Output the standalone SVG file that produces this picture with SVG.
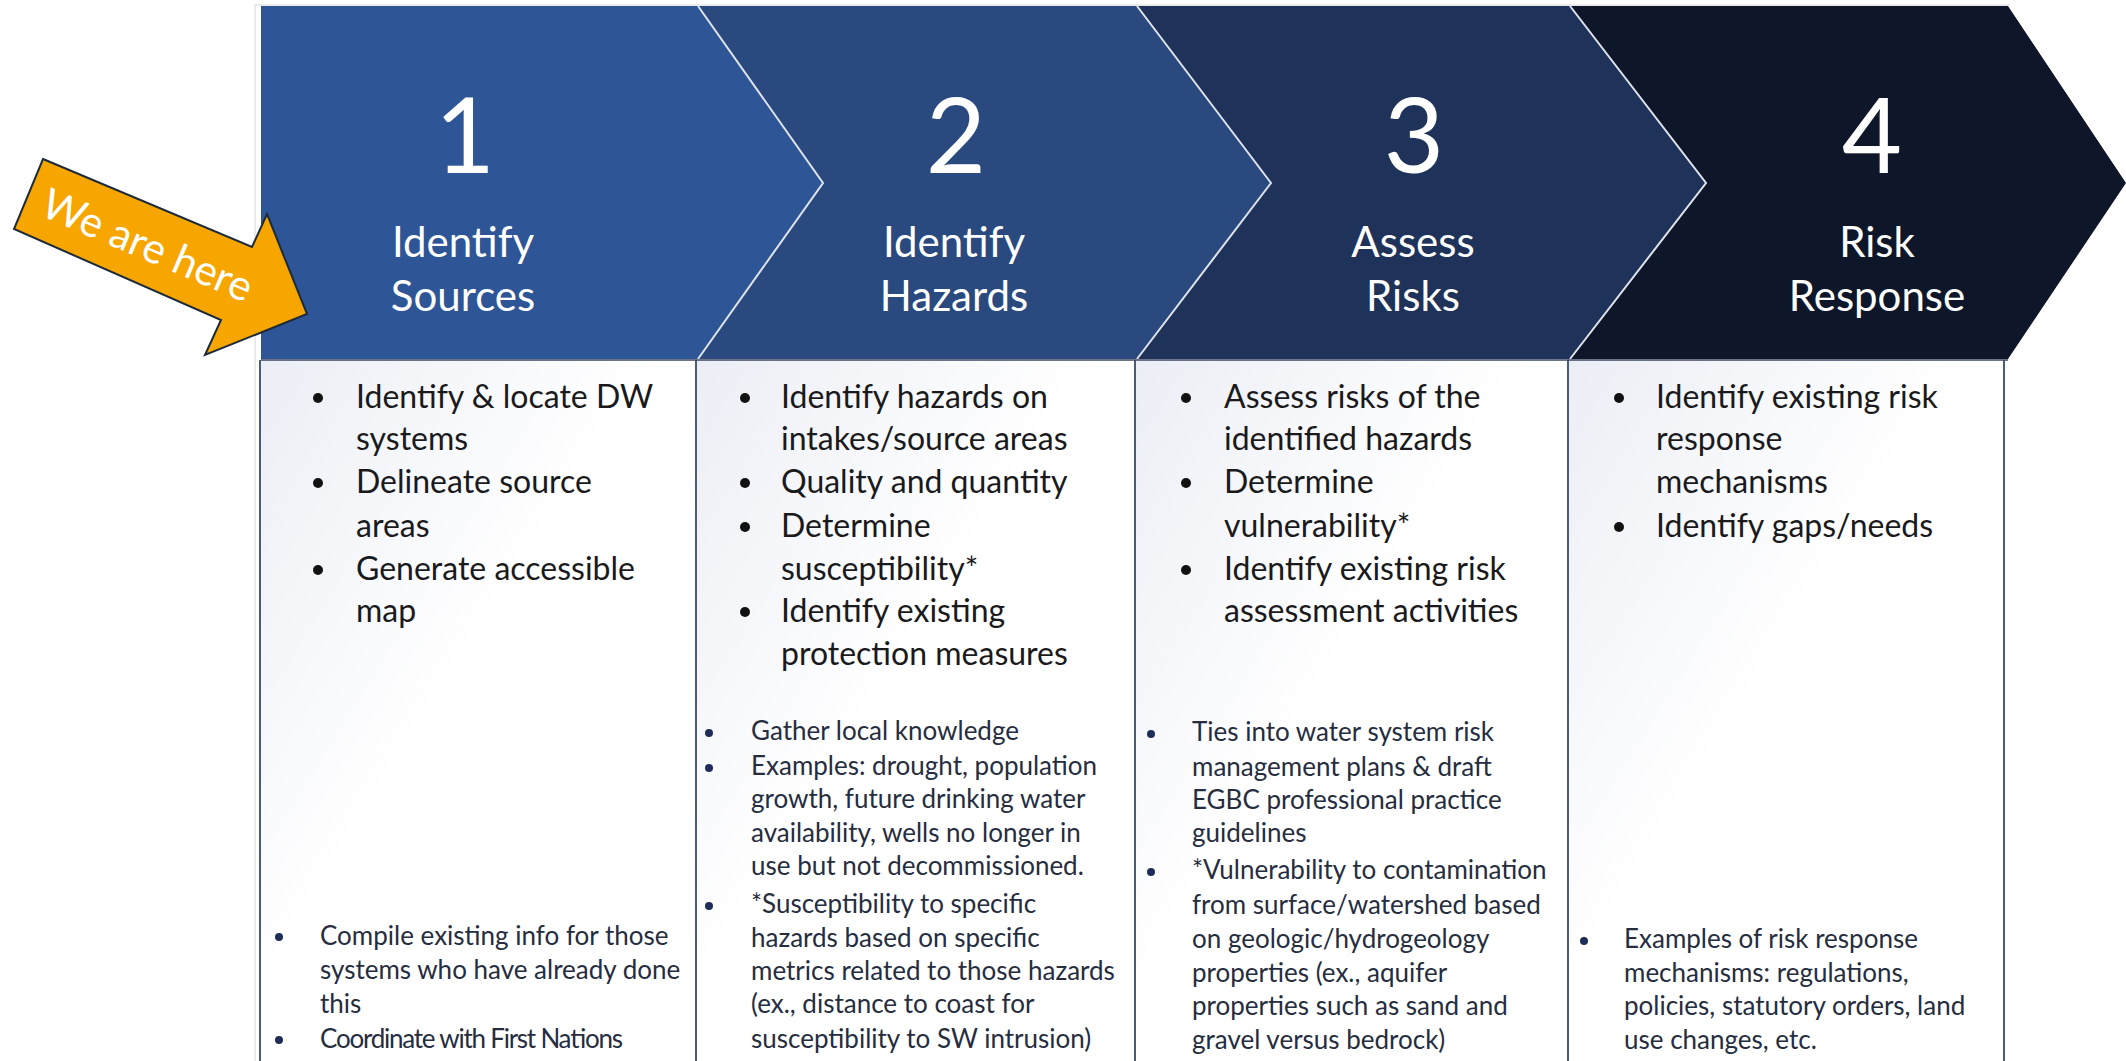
<svg xmlns="http://www.w3.org/2000/svg" width="2126" height="1061" viewBox="0 0 2126 1061">
<defs>
<style>
.num{font-family:Lato,"Open Sans","Liberation Sans",sans-serif;font-size:104px;fill:#fff;text-anchor:middle}
.ttl{font-family:Lato,"Open Sans","Liberation Sans",sans-serif;font-size:42px;fill:#fff;text-anchor:middle}
.main{font-family:Lato,"Open Sans","Liberation Sans",sans-serif;font-size:32px;fill:#1a1a1c}
.small{font-family:Lato,"Open Sans","Liberation Sans",sans-serif;font-size:26px;fill:#262d3e}
.bm{fill:#111}
.bs{fill:#1f2d5a}
.col{stroke:#4b5b7a;stroke-width:2;fill:none}
.sep{stroke:#dfe4ec;stroke-width:2;fill:none}
.arrowtxt{font-family:Lato,"Open Sans","Liberation Sans",sans-serif;font-size:42px;fill:#fff;text-anchor:middle;dominant-baseline:central}
</style>
<linearGradient id="cellbg" x1="0" y1="0" x2="1" y2="1">
<stop offset="0" stop-color="#ebeef5"/>
<stop offset="0.45" stop-color="#ffffff"/>
<stop offset="1" stop-color="#ffffff"/>
</linearGradient>
</defs>
<rect width="2126" height="1061" fill="#fff"/>
<line x1="255" y1="5" x2="255" y2="1061" stroke="#d6d6d6" stroke-width="1"/>
<line x1="255" y1="5" x2="2010" y2="5" stroke="#d6d6d6" stroke-width="1"/>

<g id="table">
<rect x="260" y="360" width="436" height="701" fill="url(#cellbg)"/>
<rect x="696" y="360" width="439" height="701" fill="url(#cellbg)"/>
<rect x="1135" y="360" width="433" height="701" fill="url(#cellbg)"/>
<rect x="1568" y="360" width="436" height="701" fill="url(#cellbg)"/>
<line class="col" x1="260" y1="360" x2="260" y2="1061"/>
<line class="col" x1="696" y1="360" x2="696" y2="1061"/>
<line class="col" x1="1135" y1="360" x2="1135" y2="1061"/>
<line class="col" x1="1568" y1="360" x2="1568" y2="1061"/>
<line class="col" x1="2004" y1="360" x2="2004" y2="1061"/>
</g>

<g id="step1">
<polygon points="261,6 698,6 823,183 698,359 261,359" fill="#2e5596"/>
<text class="num" x="465" y="173">1</text>
<text class="ttl" x="463" y="257">Identify</text>
<text class="ttl" x="463" y="311">Sources</text>
</g>
<g id="step2">
<polygon points="698,6 1137,6 1271,183 1137,359 698,359 823,183" fill="#2a4a7f"/>
<text class="num" x="956" y="173">2</text>
<text class="ttl" x="954" y="257">Identify</text>
<text class="ttl" x="954" y="311">Hazards</text>
</g>
<g id="step3">
<polygon points="1137,6 1570,6 1706,183 1570,359 1137,359 1271,183" fill="#1f3259"/>
<text class="num" x="1414" y="173">3</text>
<text class="ttl" x="1413" y="257">Assess</text>
<text class="ttl" x="1413" y="311">Risks</text>
</g>
<g id="step4">
<polygon points="1570,6 2008,6 2126,183 2008,359 1570,359 1706,183" fill="#0e1729"/>
<text class="num" x="1872" y="173">4</text>
<text class="ttl" x="1877" y="257">Risk</text>
<text class="ttl" x="1877" y="311">Response</text>
</g>
<g id="connectors">
<polyline class="sep" points="698,6 823,183 698,359"/>
<polyline class="sep" points="1137,6 1271,183 1137,359"/>
<polyline class="sep" points="1570,6 1706,183 1570,359"/>
<line x1="261" y1="360" x2="2008" y2="360" stroke="#3a4660" stroke-width="1.5"/>
</g>

<g id="col1">
<circle class="bm" cx="318" cy="398" r="5"/>
<text class="main" x="356" y="408">Identify &amp; locate DW</text>
<text class="main" x="356" y="450">systems</text>
<circle class="bm" cx="318" cy="483" r="5"/>
<text class="main" x="356" y="493">Delineate source</text>
<text class="main" x="356" y="537">areas</text>
<circle class="bm" cx="318" cy="570" r="5"/>
<text class="main" x="356" y="580">Generate accessible</text>
<text class="main" x="356" y="622">map</text>
<circle class="bs" cx="279" cy="937" r="4"/>
<text class="small" x="320" y="945">Compile existing info for those</text>
<text class="small" x="320" y="979">systems who have already done</text>
<text class="small" x="320" y="1013">this</text>
<circle class="bs" cx="279" cy="1040" r="4"/>
<text class="small" x="320" y="1048" textLength="303" lengthAdjust="spacing">Coordinate with First Nations</text>
</g>

<g id="col2">
<circle class="bm" cx="745" cy="398" r="5"/>
<text class="main" x="781" y="408">Identify hazards on</text>
<text class="main" x="781" y="450">intakes/source areas</text>
<circle class="bm" cx="745" cy="483" r="5"/>
<text class="main" x="781" y="493">Quality and quantity</text>
<circle class="bm" cx="745" cy="527" r="5"/>
<text class="main" x="781" y="537">Determine</text>
<text class="main" x="781" y="580">susceptibility*</text>
<circle class="bm" cx="745" cy="612" r="5"/>
<text class="main" x="781" y="622">Identify existing</text>
<text class="main" x="781" y="665">protection measures</text>
<circle class="bs" cx="709" cy="733" r="4"/>
<text class="small" x="751" y="740">Gather local knowledge</text>
<circle class="bs" cx="709" cy="768" r="4"/>
<text class="small" x="751" y="775">Examples: drought, population</text>
<text class="small" x="751" y="808">growth, future drinking water</text>
<text class="small" x="751" y="842">availability, wells no longer in</text>
<text class="small" x="751" y="875">use but not decommissioned.</text>
<circle class="bs" cx="709" cy="906" r="4"/>
<text class="small" x="751" y="913">*Susceptibility to specific</text>
<text class="small" x="751" y="947">hazards based on specific</text>
<text class="small" x="751" y="980">metrics related to those hazards</text>
<text class="small" x="751" y="1013">(ex., distance to coast for</text>
<text class="small" x="751" y="1048">susceptibility to SW intrusion)</text>
</g>

<g id="col3">
<circle class="bm" cx="1186" cy="398" r="5"/>
<text class="main" x="1224" y="408">Assess risks of the</text>
<text class="main" x="1224" y="450">identified hazards</text>
<circle class="bm" cx="1186" cy="483" r="5"/>
<text class="main" x="1224" y="493">Determine</text>
<text class="main" x="1224" y="537">vulnerability*</text>
<circle class="bm" cx="1186" cy="570" r="5"/>
<text class="main" x="1224" y="580">Identify existing risk</text>
<text class="main" x="1224" y="622">assessment activities</text>
<circle class="bs" cx="1151" cy="734" r="4"/>
<text class="small" x="1192" y="741">Ties into water system risk</text>
<text class="small" x="1192" y="776">management plans &amp; draft</text>
<text class="small" x="1192" y="809">EGBC professional practice</text>
<text class="small" x="1192" y="842">guidelines</text>
<circle class="bs" cx="1151" cy="872" r="4"/>
<text class="small" x="1192" y="879">*Vulnerability to contamination</text>
<text class="small" x="1192" y="914">from surface/watershed based</text>
<text class="small" x="1192" y="948">on geologic/hydrogeology</text>
<text class="small" x="1192" y="982">properties (ex., aquifer</text>
<text class="small" x="1192" y="1015">properties such as sand and</text>
<text class="small" x="1192" y="1049">gravel versus bedrock)</text>
</g>

<g id="col4">
<circle class="bm" cx="1619" cy="398" r="5"/>
<text class="main" x="1656" y="408">Identify existing risk</text>
<text class="main" x="1656" y="450">response</text>
<text class="main" x="1656" y="493">mechanisms</text>
<circle class="bm" cx="1619" cy="527" r="5"/>
<text class="main" x="1656" y="537">Identify gaps/needs</text>
<circle class="bs" cx="1584" cy="941" r="4"/>
<text class="small" x="1624" y="948">Examples of risk response</text>
<text class="small" x="1624" y="982">mechanisms: regulations,</text>
<text class="small" x="1624" y="1015">policies, statutory orders, land</text>
<text class="small" x="1624" y="1049">use changes, etc.</text>
</g>

<g id="here-arrow">
<polygon points="43,159 252,247 267,214 307,314 205,355 221,320 14,229" fill="#f7a600" stroke="#1c2a3a" stroke-width="2" stroke-linejoin="miter"/>
<text class="arrowtxt" x="148" y="244" transform="rotate(23 148 244)">We are here</text>
</g>
</svg>
